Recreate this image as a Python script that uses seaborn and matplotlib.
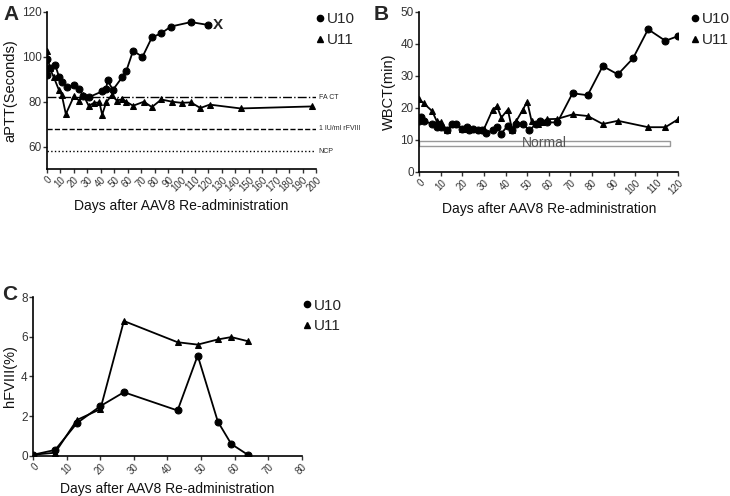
import matplotlib
matplotlib.use('Agg')
import matplotlib.pyplot as plt
from matplotlib.lines import Line2D
from matplotlib.patches import Rectangle
import pandas as pd
import seaborn as sns

# A: aPTT
a_u10_days = [0, 0, 2, 6, 9, 11, 15, 20, 24, 27, 31, 41, 44, 45, 49, 56, 59, 64, 71, 78, 85, 92, 107, 120]
a_u10_vals = [99, 92, 95, 96.5, 91, 89, 86.5, 87.5, 85.5, 82.5, 82, 84.6, 85.8, 89.5, 85.3, 91, 93.8, 102.7, 100, 108.7, 110.5, 113.5, 115.5, 114.2]
a_u11_days = [0, 2, 5, 9, 11, 14, 20, 24, 27, 31, 35, 39, 41, 44, 48, 52, 56, 59, 64, 72, 78, 85, 93, 100, 107, 114, 121, 144, 197]
a_u11_vals = [102.5, 95, 91, 85, 83, 74.5, 82.4, 80.5, 83, 78.2, 79.5, 79.7, 74.2, 79.7, 82.8, 80.5, 81.2, 80, 78.2, 80, 77.6, 81, 80, 79.5, 79.7, 77.2, 78.7, 77, 77.9]
a_ref_vals = [82, 68, 58]
a_ref_labels = ['FA CT', '1 IU/ml rFVIII', 'NCP']

# B: WBCT
b_u10_days = [0, 1, 2, 6, 8, 10, 13, 15, 17, 20, 22, 23, 25, 27, 29, 31, 34, 36, 38, 41, 43, 45, 48, 51, 54, 56, 59, 64, 71, 78, 85, 92, 99, 106, 114, 120]
b_u10_vals = [16, 17.3, 16, 15, 14, 14, 13, 15, 15, 13.5, 14, 13, 13.5, 13, 13, 12.3, 13, 14, 12, 14.5, 13.2, 15, 15, 13, 15, 16, 15.5, 15.5, 24.6, 24, 33.1, 30.5, 35.5, 44.6, 41, 42.5]
b_u11_days = [0, 2, 6, 8, 10, 13, 16, 17, 20, 22, 25, 28, 30, 34, 36, 38, 41, 43, 45, 48, 50, 52, 55, 57, 59, 64, 71, 78, 85, 92, 106, 114, 120]
b_u11_vals = [22.7, 21.5, 19, 16, 15.5, 13, 15, 15, 13.5, 13.5, 13.3, 13, 13.5, 19.5, 20.5, 17, 19.5, 13.2, 16, 19.5, 22, 16, 15, 15.5, 16.5, 16.6, 18, 17.5, 15, 16, 14, 14, 16.5]

# C: hFVIII
c_days = [0, 6.5, 13, 20, 27, 43, 49, 55, 59, 64]
c_u10_vals = [0.05, 0.29, 1.64, 2.5, 3.2, 2.28, 5.05, 1.72, 0.59, 0.04]
c_u11_vals = [0.05, 0.15, 1.8, 2.35, 6.79, 5.72, 5.6, 5.86, 5.98, 5.77]

series_labels = ['U10', 'U11']

sns.set_theme(style='ticks')
plt.rcParams['font.family'] = ['Liberation Sans', 'DejaVu Sans']

fig = plt.figure(figsize=(7.3, 4.96), dpi=100)
axA = fig.add_axes([47 / 730, 1 - 169 / 496, 269 / 730, 157 / 496])
axB = fig.add_axes([419.3 / 730, 1 - 172 / 496, 259 / 730, 160 / 496])
axC = fig.add_axes([33.3 / 730, 1 - 455.7 / 496, 268.4 / 730, 158.7 / 496])


def draw(ax, days, vals, marker):
    df = pd.DataFrame({'day': days, 'val': vals})
    sns.lineplot(data=df, x='day', y='val', ax=ax, estimator=None, sort=False,
                 color='black', linewidth=1.3, marker=marker, markersize=5,
                 markeredgecolor='black', markerfacecolor='black')


def style(ax, xmax, ylim, yticks, ylabel):
    ax.set_xlim(0, xmax)
    ax.set_ylim(*ylim)
    ax.set_xticks(range(0, xmax + 1, 10))
    ax.set_yticks(yticks)
    ax.tick_params(axis='x', labelsize=7, rotation=45, length=3, width=1, colors='#333333', pad=1)
    ax.tick_params(axis='y', labelsize=8.5, length=3, width=1, colors='#333333', pad=1)
    for lab in ax.get_xticklabels():
        lab.set_ha('right')
        lab.set_rotation_mode('anchor')
    ax.set_xlabel('Days after AAV8 Re-administration', fontsize=10, color='#111111', labelpad=4)
    ax.set_ylabel(ylabel, fontsize=10.5, color='#111111', labelpad=3)
    for s in ['left', 'bottom']:
        ax.spines[s].set_linewidth(1.2)
        ax.spines[s].set_color('black')
    sns.despine(ax=ax)


def legend(ax, anchor):
    handles = [Line2D([], [], marker='o', color='black', linestyle='none', markersize=4.5),
               Line2D([], [], marker='^', color='black', linestyle='none', markersize=4.5)]
    ax.legend(handles, series_labels, loc='upper left', bbox_to_anchor=anchor, frameon=False,
              fontsize=11, handletextpad=0.1, handlelength=0.7, labelspacing=0.45,
              borderpad=0, borderaxespad=0)


# Panel A
draw(axA, a_u10_days, a_u10_vals, 'o')
draw(axA, a_u11_days, a_u11_vals, '^')
for v, ls in zip(a_ref_vals, ['-.', '--', ':']):
    axA.axhline(v, xmin=0, xmax=1, color='black', linestyle=ls, linewidth=1)
for v, lab in zip(a_ref_vals, a_ref_labels):
    axA.text(202, v, lab, fontsize=5, va='center', ha='left', clip_on=False)
axA.text(123, 114.2, 'X', fontsize=11, fontweight='bold', va='center', ha='left')
style(axA, 200, (50, 120), [60, 80, 100, 120], 'aPTT(Seconds)')
legend(axA, (0.995, 1.0))

# Panel B
axB.add_patch(Rectangle((0, 8.2), 116, 1.6, facecolor='white', edgecolor='#999999', linewidth=1, zorder=1))
axB.text(58, 9, 'Normal', fontsize=10, color='#555555', ha='center', va='center', zorder=2)
draw(axB, b_u10_days, b_u10_vals, 'o')
draw(axB, b_u11_days, b_u11_vals, '^')
style(axB, 120, (0, 50), [0, 10, 20, 30, 40, 50], 'WBCT(min)')
legend(axB, (1.045, 1.0))

# Panel C
draw(axC, c_days, c_u10_vals, 'o')
draw(axC, c_days, c_u11_vals, '^')
style(axC, 80, (0, 8), [0, 2, 4, 6, 8], 'hFVIII(%)')
legend(axC, (1.0, 0.99))

fig.text(3 / 730, 1 - 14 / 496, 'A', fontsize=15, fontweight='bold', va='center', ha='left')
fig.text(374 / 730, 1 - 14 / 496, 'B', fontsize=15, fontweight='bold', va='center', ha='left')
fig.text(2 / 730, 1 - 295 / 496, 'C', fontsize=15, fontweight='bold', va='center', ha='left')

fig.savefig('out.png', dpi=100)
